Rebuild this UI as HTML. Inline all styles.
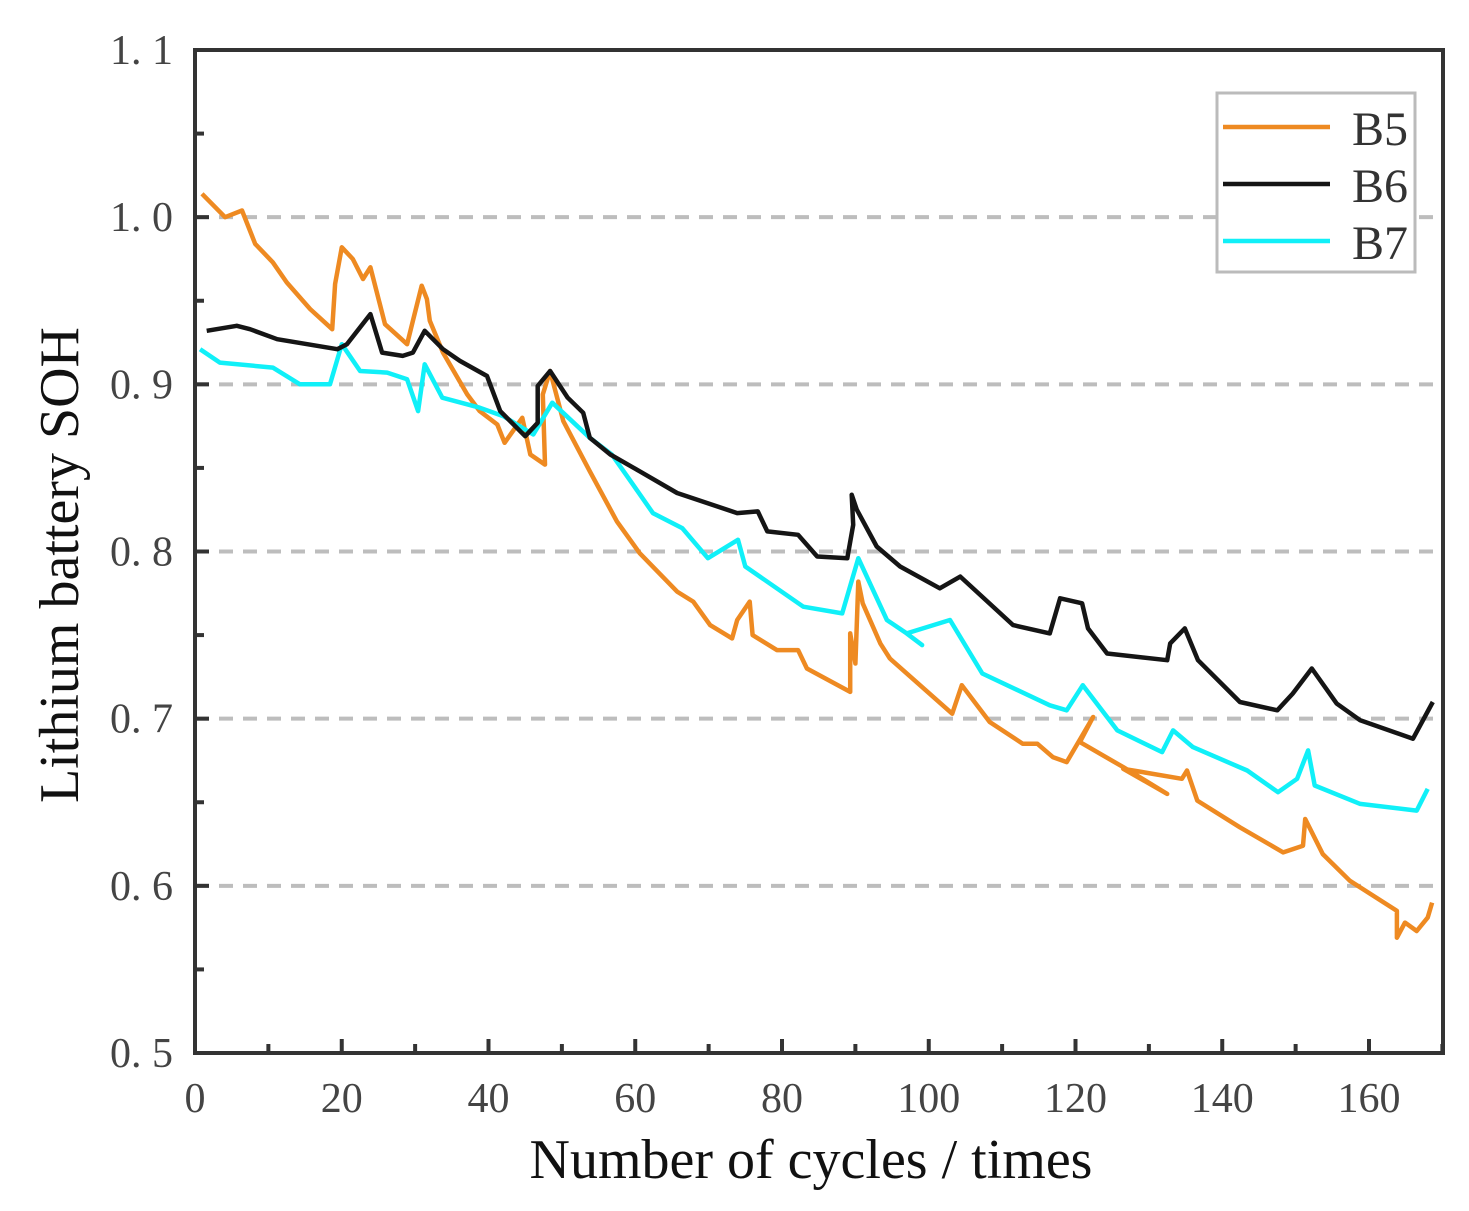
<!DOCTYPE html>
<html><head><meta charset="utf-8"><style>
body{margin:0;background:#fff;}
svg text{font-family:"Liberation Serif",serif;}
</style></head><body>
<svg id="chart" width="1469" height="1206" viewBox="0 0 1469 1206" xmlns="http://www.w3.org/2000/svg">
<g id="grid"></g>
<g id="series"></g>
<g id="axes"></g>
<text x="811" y="1178" font-size="56" text-anchor="middle" fill="#111">Number of cycles / times</text>
<text transform="translate(78,565) rotate(-90)" font-size="56" text-anchor="middle" fill="#111">Lithium battery SOH</text>
<g>
<rect x="1217" y="93" width="198" height="179" fill="#fff" stroke="#bbb" stroke-width="3"/>
<line x1="1223" y1="127" x2="1330" y2="127" stroke="#ee8a22" stroke-width="4.5"/>
<text x="1352" y="145" font-size="48" fill="#333">B5</text>
<line x1="1223" y1="184" x2="1330" y2="184" stroke="#151515" stroke-width="4.5"/>
<text x="1352" y="202" font-size="48" fill="#333">B6</text>
<line x1="1223" y1="241" x2="1330" y2="241" stroke="#10f0f8" stroke-width="4.5"/>
<text x="1352" y="259" font-size="48" fill="#333">B7</text>
</g>
</svg>
<script>
const xTicks=[0,20,40,60,80,100,120,140,160];
const yTicks=[0.5,0.6,0.7,0.8,0.9,1.0,1.1];
const yTickLabels=["0. 5","0. 6","0. 7","0. 8","0. 9","1. 0","1. 1"];
const gridValues=[0.6,0.7,0.8,0.9,1.0];
const b5x=[0.95,4.1,6.4,8.2,10.6,12.5,15.7,18.7,19.1,20.0,21.5,22.9,23.9,25.9,28.9,29.7,30.9,31.6,32.0,33.8,37.1,38.8,41.2,42.2,44.6,45.7,47.7,47.4,48.4,50.2,53.8,57.5,60.6,65.7,67.9,70.2,73.2,73.9,75.6,76.0,79.3,82.2,83.4,89.3,89.3,90.0,90.4,91.0,93.4,94.7,103.2,104.5,108.3,112.8,114.8,116.9,118.8,122.4,120.6,126.5,132.5,126.5,134.5,135.2,136.6,142.4,148.3,151.0,151.3,153.7,157.4,163.8,163.8,164.9,166.5,168.0,168.6];
const b5y=[1.014,1.000,1.004,0.984,0.973,0.961,0.945,0.933,0.960,0.982,0.975,0.963,0.970,0.936,0.924,0.938,0.959,0.951,0.938,0.919,0.894,0.884,0.876,0.865,0.880,0.858,0.852,0.894,0.908,0.878,0.848,0.818,0.799,0.776,0.770,0.756,0.748,0.759,0.770,0.750,0.741,0.741,0.730,0.716,0.751,0.733,0.782,0.769,0.745,0.736,0.703,0.720,0.698,0.685,0.685,0.677,0.674,0.701,0.686,0.671,0.655,0.670,0.664,0.669,0.651,0.635,0.620,0.624,0.640,0.619,0.603,0.585,0.569,0.578,0.573,0.581,0.590];
const b6x=[1.6,5.7,7.5,11.2,15.3,19.4,20.7,23.9,25.5,28.3,29.7,31.3,33.8,36.1,39.8,41.6,45.0,46.7,46.7,48.4,50.8,52.9,53.8,56.6,60.6,65.7,73.9,76.7,78.0,82.2,84.8,88.9,89.7,89.5,90.2,92.9,96.1,101.5,104.3,111.5,116.5,117.9,120.9,121.7,124.3,132.5,132.9,134.9,136.7,142.4,147.5,149.6,152.2,155.6,158.8,166.0,168.7];
const b6y=[0.932,0.935,0.933,0.927,0.924,0.921,0.924,0.942,0.919,0.917,0.919,0.932,0.921,0.914,0.905,0.884,0.869,0.877,0.899,0.908,0.892,0.883,0.868,0.858,0.848,0.835,0.823,0.824,0.812,0.810,0.797,0.796,0.816,0.834,0.825,0.803,0.791,0.778,0.785,0.756,0.751,0.772,0.769,0.754,0.739,0.735,0.745,0.754,0.735,0.710,0.705,0.715,0.730,0.709,0.699,0.688,0.710];
const b7x=[0.7,3.4,10.6,14.3,18.4,20.0,22.5,26.2,28.9,30.4,31.3,33.7,38.8,42.0,46.1,48.7,53.8,56.8,59.7,62.4,66.4,69.9,74.0,75.0,82.9,88.2,90.4,94.3,97.0,99.1,97.0,102.9,107.3,116.5,118.8,121.0,125.7,131.8,133.3,136.0,143.4,147.6,150.2,151.7,152.6,158.8,166.5,168.0];
const b7y=[0.921,0.913,0.910,0.900,0.900,0.924,0.908,0.907,0.903,0.884,0.912,0.892,0.886,0.881,0.870,0.889,0.868,0.858,0.840,0.823,0.814,0.796,0.807,0.791,0.767,0.763,0.796,0.759,0.751,0.744,0.751,0.759,0.727,0.708,0.705,0.720,0.693,0.680,0.693,0.683,0.669,0.656,0.664,0.681,0.660,0.649,0.645,0.658];

const L=195,R=1443,T=50,B=1053;
function xs(v){return L+(v-0)*(1369-L)/160;}
function ys(v){return B-(v-0.5)*(B-T)/0.6;}
const NS="http://www.w3.org/2000/svg";
function mk(tag,attrs,parent){const e=document.createElementNS(NS,tag);for(const k in attrs)e.setAttribute(k,attrs[k]);parent.appendChild(e);return e;}
const grid=document.getElementById('grid'),ser=document.getElementById('series'),ax=document.getElementById('axes');
gridValues.forEach(v=>{const l=mk('line',{x1:L,x2:R,y1:ys(v),y2:ys(v),stroke:'#bdbdbd','stroke-width':4,'stroke-dasharray':'14 10'},grid);

});
function drawSeries(xa,ya,color,name){const pts=xa.map((x,i)=>xs(x).toFixed(1)+','+ys(ya[i]).toFixed(1)).join(' ');
const p=mk('polyline',{points:pts,fill:'none',stroke:color,'stroke-width':4.5,'stroke-linejoin':'round'},ser);

}
drawSeries(b5x,b5y,'#ee8a22','line-b5');
drawSeries(b7x,b7y,'#10f0f8','line-b7');
drawSeries(b6x,b6y,'#151515','line-b6');
const frame=mk('rect',{x:L,y:T,width:R-L,height:B-T,fill:'none',stroke:'#333','stroke-width':4},ax);


yTicks.forEach((v,i)=>{const t=mk('line',{x1:L,x2:L+14,y1:ys(v),y2:ys(v),stroke:'#333','stroke-width':4},ax);


const tx=mk('text',{x:173,y:ys(v)+14,'font-size':42,'text-anchor':'end',fill:'#444'},ax);tx.textContent=yTickLabels[i];


if(i<yTicks.length-1){const m=mk('line',{x1:L,x2:L+9,y1:ys(v+0.05),y2:ys(v+0.05),stroke:'#333','stroke-width':4},ax);

}});
xTicks.forEach(v=>{const t=mk('line',{x1:xs(v),x2:xs(v),y1:B,y2:B-14,stroke:'#333','stroke-width':4},ax);


const tx=mk('text',{x:xs(v),y:1112,'font-size':42,'text-anchor':'middle',fill:'#444'},ax);tx.textContent=String(v);


const m=mk('line',{x1:xs(v+10),x2:xs(v+10),y1:B,y2:B-9,stroke:'#333','stroke-width':4},ax);

});
</script>
</body></html>
